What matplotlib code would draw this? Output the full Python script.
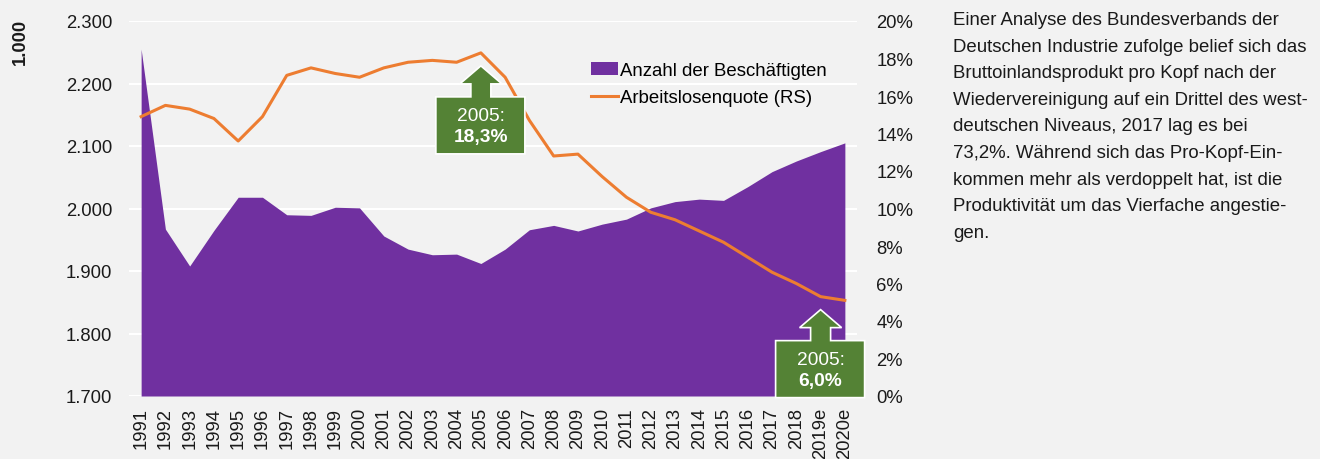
import numpy as np
import matplotlib.pyplot as plt
import matplotlib.transforms as mtransforms
from matplotlib.patches import Polygon, Patch
from matplotlib.lines import Line2D

plt.rcParams['font.family'] = ['Liberation Sans', 'DejaVu Sans']

years = ["1991", "1992", "1993", "1994", "1995", "1996", "1997", "1998", "1999", "2000",
         "2001", "2002", "2003", "2004", "2005", "2006", "2007", "2008", "2009", "2010",
         "2011", "2012", "2013", "2014", "2015", "2016", "2017", "2018", "2019e", "2020e"]
# Beschaeftigte in 1.000
employed = [2255, 1967, 1908, 1965, 2018, 2018, 1990, 1989, 2002, 2001,
            1956, 1935, 1926, 1927, 1912, 1935, 1966, 1973, 1964, 1975,
            1983, 2001, 2011, 2015, 2013, 2035, 2059, 2076, 2091, 2105]
# Arbeitslosenquote in %
unemp = [14.9, 15.5, 15.3, 14.8, 13.6, 14.9, 17.1, 17.5, 17.2, 17.0,
         17.5, 17.8, 17.9, 17.8, 18.3, 17.0, 14.7, 12.8, 12.9, 11.7,
         10.6, 9.8, 9.4, 8.8, 8.2, 7.4, 6.6, 6.0, 5.3, 5.1]

callouts = [("2005", "2005:", "18,3%"), ("2019e", "2005:", "6,0%")]

text_lines = [
    "Einer Analyse des Bundesverbands der",
    "Deutschen Industrie zufolge belief sich das",
    "Bruttoinlandsprodukt pro Kopf nach der",
    "Wiedervereinigung auf ein Drittel des west-",
    "deutschen Niveaus, 2017 lag es bei",
    "73,2%. Während sich das Pro-Kopf-Ein-",
    "kommen mehr als verdoppelt hat, ist die",
    "Produktivität um das Vierfache angestie-",
    "gen.",
]

purple = "#7030A0"
orange = "#ED7D31"
green = "#548235"
bg = "#F2F2F2"
fs = 13.3

fig = plt.figure(figsize=(13.2, 4.6), dpi=100, facecolor=bg)
ax = fig.add_axes([129 / 1320, 1 - 397 / 460, 728 / 1320, 375 / 460])
ax.set_facecolor(bg)
x = np.arange(len(years))

ax.fill_between(x, employed, 1700, color=purple, linewidth=0, zorder=2)
ax.set_xlim(-0.5, len(years) - 0.5)
ax.set_ylim(1700, 2300)
ax.set_yticks(np.arange(1700, 2301, 100))
ax.set_yticklabels([f"{v // 1000}.{v % 1000:03d}" for v in range(1700, 2301, 100)])
ax.grid(axis="y", color="white", linewidth=1.5, zorder=1)
ax.set_xticks(x)
ax.set_xticklabels(years, rotation=90)
ax.tick_params(axis="both", length=0, labelsize=fs, colors="#1a1a1a")
ax.tick_params(axis="y", pad=12)
ax.tick_params(axis="x", pad=8)
for s in ax.spines.values():
    s.set_visible(False)

ax2 = ax.twinx()
ax2.plot(x, unemp, color=orange, linewidth=2.2, zorder=3)
ax2.set_ylim(0, 20)
ax2.set_yticks(np.arange(0, 21, 2))
ax2.set_yticklabels([f"{v}%" for v in range(0, 21, 2)])
ax2.tick_params(axis="y", length=0, labelsize=fs, pad=14, colors="#1a1a1a")
for s in ax2.spines.values():
    s.set_visible(False)

# green callout arrows (shape in pixels relative to the data point)
shape = np.array([(0, -13), (21, -31), (10, -31), (10, -44), (44, -44), (44, -101),
                  (-45, -101), (-45, -44), (-10, -44), (-10, -31), (-21, -31)]) / 100.0
for yr, l1, l2 in callouts:
    i = years.index(yr)
    tr = fig.dpi_scale_trans + mtransforms.ScaledTranslation(i, unemp[i], ax2.transData)
    ax2.add_patch(Polygon(shape, closed=True, transform=tr, facecolor=green,
                          edgecolor="white", linewidth=1.2, zorder=5, clip_on=False))
    ax2.annotate(l1, (i, unemp[i]), xytext=(0, -63 * 0.72), textcoords="offset points",
                 ha="center", va="center", color="white", fontsize=13.8, zorder=6)
    ax2.annotate(l2, (i, unemp[i]), xytext=(0, -84 * 0.72), textcoords="offset points",
                 ha="center", va="center", color="white", fontsize=13.8,
                 fontweight="bold", zorder=6)

handles = [Patch(facecolor=purple, edgecolor="none"),
           Line2D([0], [0], color=orange, linewidth=2.2)]
ax2.legend(handles, ["Anzahl der Beschäftigten", "Arbeitslosenquote (RS)"],
           loc="upper left", bbox_to_anchor=(0.612, 0.935), frameon=False,
           fontsize=13.4, handlelength=1.45, handletextpad=0.1, labelspacing=0.55)

fig.text(20 / 1320, 1 - 42 / 460, "1.000", rotation=90, fontweight="bold",
         fontsize=fs, ha="center", va="center", color="#1a1a1a")

fig.text(953 / 1320, 1 - 12 / 460, "\n".join(text_lines), ha="left", va="top",
         fontsize=13.4, linespacing=1.74, color="#1a1a1a")

fig.savefig("out.png", dpi=100, facecolor=bg)
